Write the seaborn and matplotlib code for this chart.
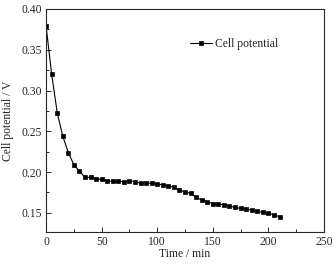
import pandas as pd
import matplotlib
matplotlib.use("Agg")
import matplotlib.pyplot as plt
import seaborn as sns
from matplotlib.ticker import MultipleLocator

# Dados
tempo = [0, 5, 10, 15, 20, 25, 30, 35, 40, 45, 50, 55, 60, 65, 70, 75, 80, 85, 90, 95,
         100, 105, 110, 115, 120, 125, 130, 135, 140, 145, 150, 155, 160, 165, 170,
         175, 180, 185, 190, 195, 200, 205, 210]
potencial = [0.379, 0.320, 0.273, 0.244, 0.224, 0.209, 0.201, 0.1935, 0.1935, 0.192,
             0.191, 0.1894, 0.1886, 0.1886, 0.1882, 0.1894, 0.1882, 0.1865, 0.1865,
             0.1865, 0.1853, 0.1845, 0.1833, 0.1812, 0.1783, 0.1755, 0.1742, 0.169,
             0.1658, 0.1638, 0.1614, 0.1608, 0.160, 0.1583, 0.1567, 0.1555, 0.1547,
             0.1534, 0.1518, 0.1506, 0.1494, 0.1477, 0.1453]

df = pd.DataFrame({"Time": tempo, "Cell potential": potencial})

sns.set_style("ticks")
plt.rcParams["font.family"] = ["Liberation Serif", "DejaVu Serif"]
plt.rcParams["xtick.direction"] = "in"
plt.rcParams["ytick.direction"] = "in"

fs = 8.4
fig = plt.figure(figsize=(3.34, 2.64), dpi=100)
ax = fig.add_axes([0.138, 0.121, 0.832, 0.845])

sns.lineplot(data=df, x="Time", y="Cell potential", ax=ax, color="black",
             marker="s", markersize=3.5, markeredgewidth=0.5, markeredgecolor="black",
             linewidth=0.8, label="Cell potential")

ax.set_xlim(0, 250)
ax.set_ylim(0.1265, 0.40)
ax.xaxis.set_major_locator(MultipleLocator(50))
ax.xaxis.set_minor_locator(MultipleLocator(25))
ax.yaxis.set_major_locator(MultipleLocator(0.05))
ax.yaxis.set_minor_locator(MultipleLocator(0.025))
ax.yaxis.set_major_formatter(matplotlib.ticker.FormatStrFormatter("%.2f"))
ax.tick_params(which="major", length=3.5, width=0.7, labelsize=fs, pad=3)
ax.tick_params(which="minor", length=2, width=0.7)
for s in ax.spines.values():
    s.set_linewidth(0.8)

ax.set_xlabel("Time / min", fontsize=fs, labelpad=0)
ax.set_ylabel("Cell potential / V", fontsize=fs, labelpad=5)

leg = ax.legend(loc="center left", bbox_to_anchor=(0.50, 0.843), frameon=False,
                fontsize=fs, handlelength=1.9, handletextpad=0.25, borderaxespad=0)

plt.savefig("out.png", dpi=100)
plt.close()
